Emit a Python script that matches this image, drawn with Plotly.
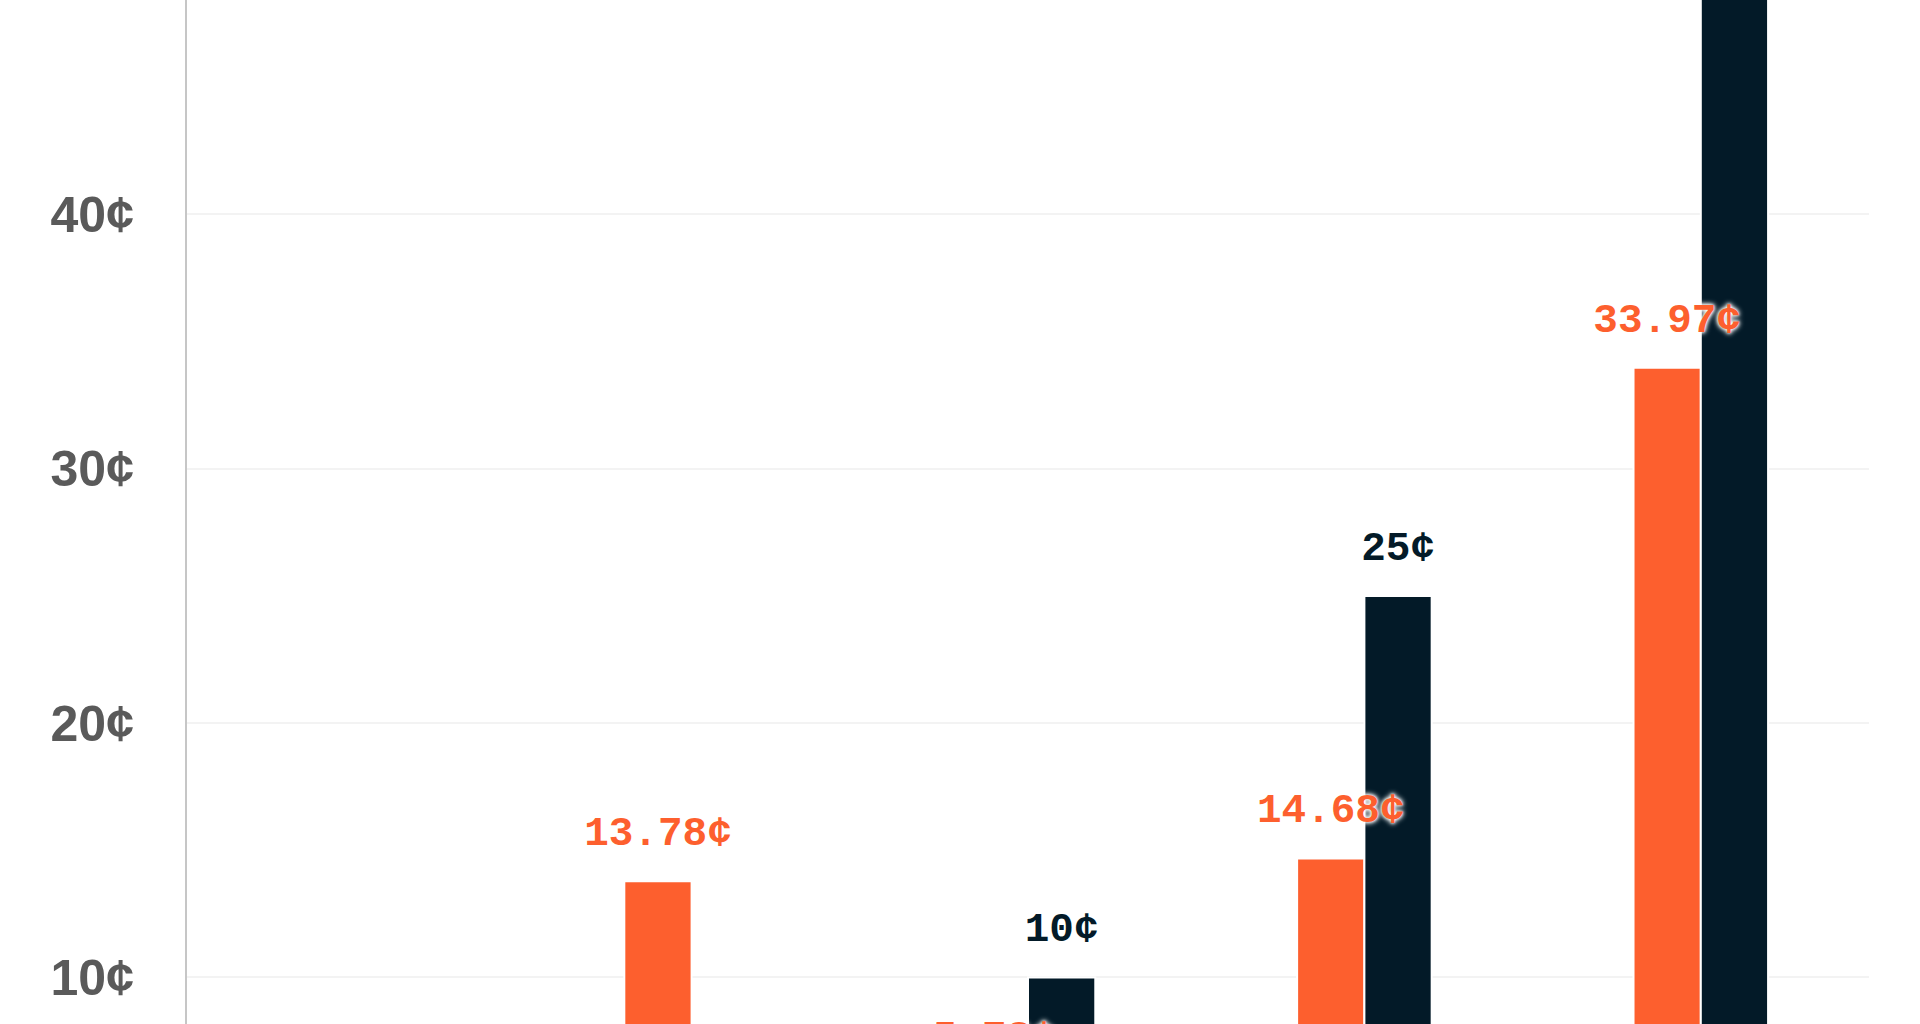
import plotly.graph_objects as go

# Data (cents)
categories = ["Group 1", "Group 2", "Group 3", "Group 4", "Group 5"]
orange_values = [4.5, 13.78, 5.78, 14.68, 33.97]
dark_values = [3.5, 5, 10, 25, 55]
series_names = ["Series A", "Series B"]
y_ticks = [10, 20, 30, 40]

ORANGE = "#FD5F2E"
DARK = "#031A28"
LABEL_FONT = "Liberation Mono"
TICK_FONT = "Liberation Sans"
HALO = "0px 0px 3px white, 0px 0px 5px white, 0px 0px 6px white"

fig = go.Figure()

# Bars
for name, values, color in [(series_names[0], orange_values, ORANGE),
                            (series_names[1], dark_values, DARK)]:
    fig.add_trace(go.Bar(
        x=categories,
        y=values,
        name=name,
        marker=dict(color=color, line=dict(color="white", width=2)),
        hoverinfo="skip",
    ))

# Value labels above the bars (grouped scatter so they line up with the bars)
for name, values, color in [(series_names[0], orange_values, ORANGE),
                            (series_names[1], dark_values, DARK)]:
    fig.add_trace(go.Scatter(
        x=categories,
        y=values,
        name=name + " label",
        mode="markers+text",
        marker=dict(size=40, color="rgba(0,0,0,0)"),
        text=[f"{v:g}¢" for v in values],
        textposition="top center",
        textfont=dict(family=LABEL_FONT, size=41, color=color,
                      weight="bold", shadow=HALO),
        cliponaxis=True,
        showlegend=False,
        hoverinfo="skip",
    ))

fig.update_layout(
    width=1920,
    height=1024,
    margin=dict(l=187, r=51, t=0, b=0),
    paper_bgcolor="white",
    plot_bgcolor="white",
    barmode="group",
    bargap=0.6,
    scattermode="group",
    scattergap=0.6,
    showlegend=False,
)

fig.update_xaxes(
    showticklabels=False,
    showgrid=False,
    zeroline=False,
    ticks="",
)

fig.update_yaxes(
    range=[8.17, 48.43],
    tickvals=y_ticks,
    ticktext=[f"{t}¢" for t in y_ticks],
    tickfont=dict(family=TICK_FONT, size=50, color="#5A5A5A", weight="bold"),
    ticklabelstandoff=41,
    showgrid=True,
    gridcolor="#F3F3F3",
    gridwidth=2,
    zeroline=False,
    showline=True,
    linecolor="#C6C6C6",
    linewidth=2,
    ticks="",
)

# drop the browser's default page margin so the figure sits at the corner
fig.write_html("out.html",
               config={"displayModeBar": False},
               post_script="document.body.style.margin = '0';")
